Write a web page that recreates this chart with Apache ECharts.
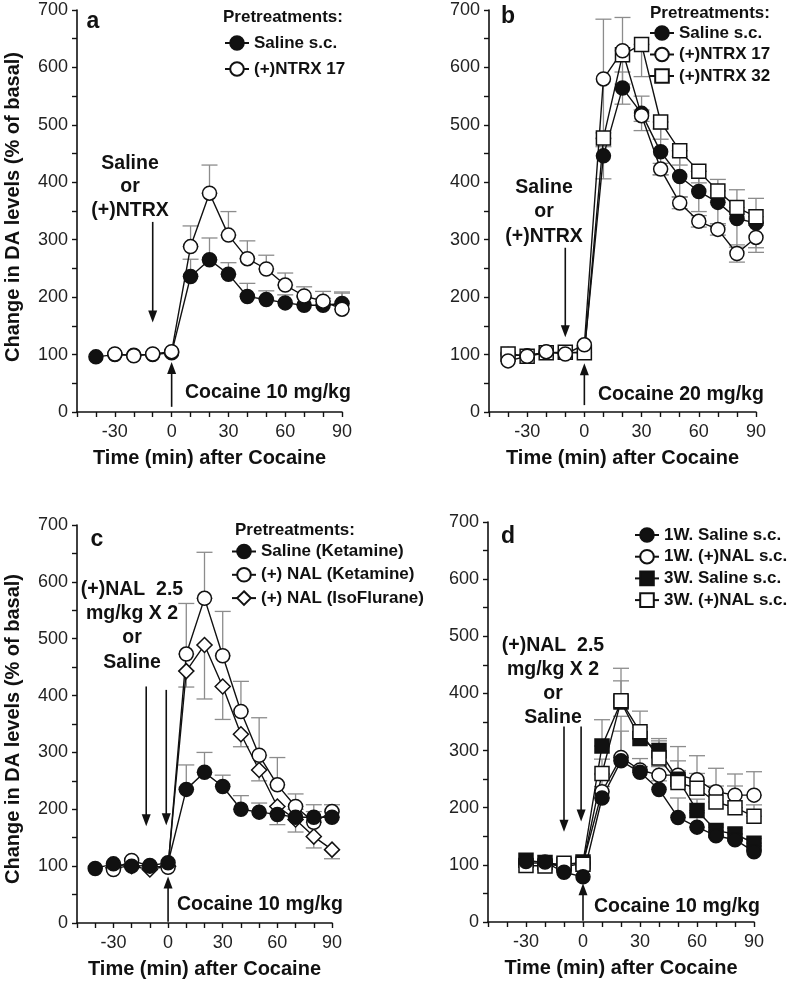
<!DOCTYPE html>
<html><head><meta charset="utf-8">
<script src="https://cdn.jsdelivr.net/npm/echarts@6/dist/echarts.min.js"></script>
<style>html,body{margin:0;padding:0;background:#fff}#c{width:790px;height:985px}</style>
</head><body><div id="c"></div>
<script>
// ---------------- data ----------------
const timesABC = [-40, -30, -20, -10, 0, 10, 20, 30, 40, 50, 60, 70, 80, 90];
const timesD   = [-30, -20, -10, 0, 10, 20, 30, 40, 50, 60, 70, 80, 90];
const xTickLabels = [-30, 0, 30, 60, 90];

// panel a
const aSaline    = [96, 100, 99, 100, 103, 236, 265, 240, 201, 196, 190, 186, 186, 189];
const aSalineErr = [0, 0, 0, 0, 0, 30, 38, 20, 23, 15, 14, 14, 12, 18];
const aNtrx17    = ['-', 101, 98, 101, 105, 288, 381, 308, 267, 249, 221, 202, 193, 179];
const aNtrx17Err = [0, 0, 0, 0, 0, 36, 49, 41, 31, 24, 21, 16, 17, 30];

// panel b
const bSaline    = [100, 98, 104, 103, 104, 446, 564, 520, 453, 410, 384, 365, 337, 329];
const bSalineErr = [0, 0, 0, 0, 0, 40, 28, 30, 40, 35, 35, 40, 50, 43];
const bNtrx17    = [89, 97, 105, 101, 117, 580, 629, 516, 423, 364, 332, 318, 276, 304];
const bNtrx17Err = [0, 0, 0, 0, 0, 104, 58, 10, 10, 10, 10, 10, 15, 26];
const bNtrx32    = [101, 97, 103, 104, 103, 477, 622, 640, 505, 455, 419, 385, 356, 340];
const bNtrx32Err = [0, 0, 0, 0, 0, 15, 0, 56, 30, 25, 20, 20, 20, 15];

// panel c
const cSaline    = [96, 104, 100, 101, 106, 235, 265, 240, 200, 195, 191, 186, 186, 186];
const cSalineErr = [0, 0, 0, 0, 0, 43, 35, 20, 24, 16, 14, 14, 10, 10];
const cNalKet    = ['-', 94, 110, 100, 98, 473, 571, 470, 372, 295, 243, 205, 177, 196];
const cNalKetErr = [0, 0, 0, 0, 0, 89, 81, 78, 53, 66, 48, 22, 31, 12];
const cNalIso    = ['-', 97, 100, 94, 100, 443, 489, 416, 332, 269, 205, 182, 152, 129];
const cNalIsoErr = [0, 0, 0, 0, 0, 28, 95, 58, 22, 19, 32, 22, 20, 16];

// panel d
const d1wSal    = [106, 105, 87, 79, 217, 282, 262, 232, 183, 166, 151, 144, 123];
const d1wSalErr = [0, 0, 0, 0, 20, 52, 10, 15, 34, 25, 15, 10, 10];
const d1wNal    = [103, 103, 96, 103, 228, 288, 266, 257, 257, 249, 228, 222, 222];
const d1wNalErr = [0, 0, 0, 0, 30, 72, 20, 15, 50, 42, 41, 37, 41];
const d3wSal    = [108, 104, 100, 105, 308, 385, 321, 300, 250, 195, 160, 154, 138];
const d3wSalErr = [0, 0, 0, 0, 46, 37, 20, 21, 15, 20, 10, 10, 8];
const d3wNal    = [99, 98, 103, 101, 260, 387, 333, 287, 244, 234, 210, 200, 185];
const d3wNalErr = [0, 0, 0, 0, 25, 57, 36, 30, 38, 26, 28, 38, 20];

// arrow annotations: [x, fromY, toY] in data units
const arrowsA = [[-10, 331, 156], [0, 9, 87]];
const arrowsB = [[-10, 286, 130], [0, 12, 85]];
const arrowsC = [[-12, 416, 170], [-1, 410, 172], [0, 2, 82]];
const arrowsD = [[-10, 342, 158], [-1, 342, 176], [0, 2, 68]];

// ---------------- helpers ----------------
const FONT = '"Liberation Sans", Arial, sans-serif';
const INK = '#111';
const ERR = '#8c8c8c';

function pairs(times, vals) { return times.map((t, i) => [t, vals[i]]); }

function lineSeries(name, g, times, vals, symbol, filled) {
  return {
    type: 'line', name: name, xAxisIndex: g, yAxisIndex: g,
    data: pairs(times, vals), symbol: symbol, symbolSize: symbol === 'diamond' ? 15 : 14,
    showAllSymbol: true, z: 3, animation: false, silent: true,
    lineStyle: { color: INK, width: 1.4 },
    itemStyle: { color: filled ? INK : '#fff', borderColor: INK, borderWidth: 1.5, opacity: 1 },
    emphasis: { disabled: true }
  };
}

// dir: 1 up, -1 down, 0 both
function errSeries(g, times, vals, errs, dir) {
  const data = [];
  times.forEach((t, i) => {
    const v = vals[i], e = errs[i];
    if (v === '-' || !e) return;
    const lo = dir === 1 ? v : v - e;
    const hi = dir === -1 ? v : v + e;
    data.push([t, lo, hi]);
  });
  return {
    type: 'custom', xAxisIndex: g, yAxisIndex: g, z: 1, silent: true, animation: false,
    encode: { x: 0, y: [1, 2] }, data: data,
    renderItem: function (params, api) {
      const x = api.value(0), lo = api.value(1), hi = api.value(2);
      const a = api.coord([x, lo]), b = api.coord([x, hi]);
      const w = 8;
      const st = { stroke: ERR, lineWidth: 1.3, fill: null };
      return { type: 'group', children: [
        { type: 'line', shape: { x1: a[0], y1: a[1], x2: b[0], y2: b[1] }, style: st },
        { type: 'line', shape: { x1: a[0] - w, y1: a[1], x2: a[0] + w, y2: a[1] }, style: st },
        { type: 'line', shape: { x1: b[0] - w, y1: b[1], x2: b[0] + w, y2: b[1] }, style: st }
      ]};
    }
  };
}

function arrowSeries(g, list) {
  return {
    type: 'custom', xAxisIndex: g, yAxisIndex: g, z: 2, silent: true, animation: false,
    clip: false, encode: { x: 0, y: [1, 2] }, data: list,
    renderItem: function (params, api) {
      const x = api.value(0);
      const a = api.coord([x, api.value(1)]), b = api.coord([x, api.value(2)]);
      const dir = b[1] > a[1] ? 1 : -1;
      const hl = 12, hw = 4.5;
      return { type: 'group', children: [
        { type: 'line', shape: { x1: a[0], y1: a[1], x2: b[0], y2: b[1] - dir * (hl - 2) },
          style: { stroke: INK, lineWidth: 1.6 } },
        { type: 'polygon', shape: { points: [[b[0], b[1]], [b[0] - hw, b[1] - dir * hl], [b[0] + hw, b[1] - dir * hl]] },
          style: { fill: INK } }
      ]};
    }
  };
}

const grids = [
  { left: 77, top: 10, width: 265, height: 402 },
  { left: 489, top: 10, width: 267, height: 402 },
  { left: 77, top: 525, width: 255, height: 398 },
  { left: 488, top: 522, width: 266, height: 400 }
];

const xAxes = grids.map((g, i) => ({
  type: 'value', gridIndex: i, min: -50, max: 90, interval: 10,
  splitLine: { show: false },
  axisLine: { show: true, onZero: false, lineStyle: { color: INK, width: 1.6 } },
  axisTick: { show: true, length: 5, lineStyle: { color: INK, width: 1.4 } },
  axisLabel: { fontFamily: FONT, fontSize: 18, color: '#222', margin: 11,
    formatter: v => xTickLabels.indexOf(v) >= 0 ? String(v) : '' },
  name: 'Time (min) after Cocaine', nameLocation: 'middle', nameGap: 36,
  nameTextStyle: { fontFamily: FONT, fontSize: 20, fontWeight: 'bold', color: INK }
}));

const yAxes = grids.map((g, i) => ({
  type: 'value', gridIndex: i, min: 0, max: 700, interval: 100,
  splitLine: { show: false },
  axisLine: { show: true, onZero: false, lineStyle: { color: INK, width: 1.6 } },
  axisTick: { show: true, length: 5, lineStyle: { color: INK, width: 1.4 } },
  minorTick: { show: true, splitNumber: 2, length: 5, lineStyle: { color: INK, width: 1.4 } },
  axisLabel: { fontFamily: FONT, fontSize: 18, color: '#222', margin: 9 }
}));

const series = [
  // a
  errSeries(0, timesABC, aSaline, aSalineErr, 1),
  errSeries(0, timesABC, aNtrx17, aNtrx17Err, 1),
  arrowSeries(0, arrowsA),
  lineSeries('Saline s.c.', 0, timesABC, aSaline, 'circle', true),
  lineSeries('(+)NTRX 17', 0, timesABC, aNtrx17, 'circle', false),
  // b
  errSeries(1, timesABC, bSaline, bSalineErr, 0),
  errSeries(1, timesABC, bNtrx17, bNtrx17Err, 0),
  errSeries(1, timesABC, bNtrx32, bNtrx32Err, -1),
  arrowSeries(1, arrowsB),
  lineSeries('Saline s.c.', 1, timesABC, bSaline, 'circle', true),
  lineSeries('(+)NTRX 32', 1, timesABC, bNtrx32, 'rect', false),
  lineSeries('(+)NTRX 17', 1, timesABC, bNtrx17, 'circle', false),
  // c
  errSeries(2, timesABC, cSaline, cSalineErr, 1),
  errSeries(2, timesABC, cNalKet, cNalKetErr, 1),
  errSeries(2, timesABC, cNalIso, cNalIsoErr, -1),
  arrowSeries(2, arrowsC),
  lineSeries('(+) NAL (IsoFlurane)', 2, timesABC, cNalIso, 'diamond', false),
  lineSeries('(+) NAL (Ketamine)', 2, timesABC, cNalKet, 'circle', false),
  lineSeries('Saline (Ketamine)', 2, timesABC, cSaline, 'circle', true),
  // d
  errSeries(3, timesD, d1wSal, d1wSalErr, 1),
  errSeries(3, timesD, d1wNal, d1wNalErr, 1),
  errSeries(3, timesD, d3wSal, d3wSalErr, 1),
  errSeries(3, timesD, d3wNal, d3wNalErr, 1),
  arrowSeries(3, arrowsD),
  lineSeries('1W. (+)NAL s.c.', 3, timesD, d1wNal, 'circle', false),
  lineSeries('3W. Saline s.c.', 3, timesD, d3wSal, 'rect', true),
  lineSeries('3W. (+)NAL s.c.', 3, timesD, d3wNal, 'rect', false),
  lineSeries('1W. Saline s.c.', 3, timesD, d1wSal, 'circle', true)
];

function legend(names, left, top, gap) {
  return {
    data: names, orient: 'vertical', left: left, top: top, padding: 0,
    itemWidth: 24, itemHeight: 17, itemGap: gap, selectedMode: false,
    textStyle: { fontFamily: FONT, fontSize: 17, fontWeight: 'bold', color: INK }
  };
}

const legends = [
  legend(['Saline s.c.', '(+)NTRX 17'], 224, 34.5, 9),
  legend(['Saline s.c.', '(+)NTRX 17', '(+)NTRX 32'], 649, 24.5, 4.5),
  legend(['Saline (Ketamine)', '(+) NAL (Ketamine)', '(+) NAL (IsoFlurane)'], 231, 543, 6.3),
  legend(['1W. Saline s.c.', '1W. (+)NAL s.c.', '3W. Saline s.c.', '3W. (+)NAL s.c.'], 634, 526.5, 4.7)
];

function txt(text, x, y, opts) {
  opts = opts || {};
  return { type: 'text', silent: true, x: x, y: y, rotation: opts.rot || 0,
    style: { text: text, fill: INK, font: 'bold ' + (opts.size || 19.5) + 'px ' + FONT,
      textAlign: opts.align || 'left', textVerticalAlign: 'middle', lineHeight: opts.lh || 24 } };
}

const graphics = [
  txt('Change in DA levels (% of basal)', 13, 207, { rot: Math.PI / 2, align: 'center', size: 20 }),
  txt('Change in DA levels (% of basal)', 13, 729, { rot: Math.PI / 2, align: 'center', size: 20 }),
  txt('a', 93, 22, { align: 'center', size: 23 }),
  txt('b', 508, 17, { align: 'center', size: 23 }),
  txt('c', 97, 540, { align: 'center', size: 23 }),
  txt('d', 508, 537, { align: 'center', size: 23 }),
  txt('Pretreatments:', 223, 17, { size: 17 }),
  txt('Pretreatments:', 650, 13, { size: 17 }),
  txt('Pretreatments:', 235, 530, { size: 17 }),
  txt('Saline\nor\n(+)NTRX', 130, 187, { align: 'center', lh: 23.5 }),
  txt('Saline\nor\n(+)NTRX', 544, 212, { align: 'center', lh: 24.5 }),
  txt('(+)NAL  2.5\nmg/kg X 2\nor\nSaline', 132, 626, { align: 'center', lh: 24.2 }),
  txt('(+)NAL  2.5\nmg/kg X 2\nor\nSaline', 553, 682, { align: 'center', lh: 24 }),
  txt('Cocaine 10 mg/kg', 185, 393),
  txt('Cocaine 20 mg/kg', 598, 395),
  txt('Cocaine 10 mg/kg', 177, 905),
  txt('Cocaine 10 mg/kg', 594, 907)
];

const chart = echarts.init(document.getElementById('c'), null, { renderer: 'canvas' });
chart.setOption({
  backgroundColor: '#fff',
  animation: false,
  textStyle: { fontFamily: FONT },
  grid: grids.map(g => ({ left: g.left, top: g.top, width: g.width, height: g.height, containLabel: false })),
  xAxis: xAxes,
  yAxis: yAxes,
  legend: legends,
  series: series,
  graphic: graphics
});
</script></body></html>
